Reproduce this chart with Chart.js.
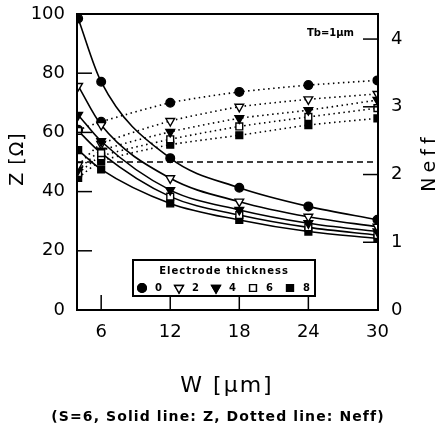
<!DOCTYPE html>
<html>
<head>
<meta charset="utf-8">
<script src="https://cdn.jsdelivr.net/npm/chart.js@4.4.1/dist/chart.umd.min.js"></script>
<style>
html,body{margin:0;padding:0;background:#fff;}
canvas{display:block;}
</style>
</head>
<body>
<canvas id="c" width="440" height="429"></canvas>
<script>
// ---- data ----
const W = [4, 6, 12, 18, 24, 30];
const THICKNESS = ['0', '2', '4', '6', '8'];
const Z_T0 = [98.5, 77.1, 51.3, 41.3, 35.0, 30.5];
const Z_T2 = [75.7, 62.5, 44.5, 36.6, 31.5, 28.1];
const Z_T4 = [65.9, 57.0, 40.5, 33.8, 29.3, 26.5];
const Z_T6 = [60.5, 53.0, 38.3, 32.1, 27.9, 25.3];
const Z_T8 = [54.0, 47.5, 36.0, 30.4, 26.5, 24.2];
const NEFF_T0 = [2.66, 2.78, 3.06, 3.22, 3.32, 3.39];
const NEFF_T2 = [2.14, 2.45, 2.79, 3.00, 3.11, 3.19];
const NEFF_T4 = [2.07, 2.35, 2.63, 2.83, 2.95, 3.10];
const NEFF_T6 = [2.02, 2.27, 2.52, 2.71, 2.85, 2.98];
const NEFF_T8 = [1.95, 2.20, 2.44, 2.58, 2.73, 2.83];
const Z_REF = 50;
const X_TICKS = [6, 12, 18, 24, 30];
const Z_TICKS = [0, 20, 40, 60, 80, 100];
const NEFF_TICKS = [0, 1, 2, 3, 4];
const X_MIN = 3.9, X_MAX = 30.05;
const Z_MIN = 0, Z_MAX = 100;
const NEFF_MIN = 0, NEFF_MAX = 4.37;

// ---- styles ----
const MARKERS = [
  {pointStyle: 'circle',   rotation: 0,   fill: '#000', radius: 4.3},
  {pointStyle: 'triangle', rotation: 180, fill: '#fff', radius: 5},
  {pointStyle: 'triangle', rotation: 180, fill: '#000', radius: 5},
  {pointStyle: 'rect',     rotation: 0,   fill: '#fff', radius: 4.8},
  {pointStyle: 'rect',     rotation: 0,   fill: '#000', radius: 4.8}
];
const Z_SERIES = [Z_T0, Z_T2, Z_T4, Z_T6, Z_T8];
const NEFF_SERIES = [NEFF_T0, NEFF_T2, NEFF_T4, NEFF_T6, NEFF_T8];
const toPts = arr => arr.map((v, i) => ({x: W[i], y: v}));

const datasets = [];
Z_SERIES.forEach((s, i) => {
  const m = MARKERS[i];
  datasets.push({
    label: 'Z t=' + THICKNESS[i], data: toPts(s), yAxisID: 'y',
    borderColor: '#000', borderWidth: 1.6, cubicInterpolationMode: 'monotone',
    pointStyle: m.pointStyle, rotation: m.rotation, pointRadius: m.radius,
    pointBackgroundColor: m.fill, pointBorderColor: '#000', pointBorderWidth: 1.4
  });
});
NEFF_SERIES.forEach((s, i) => {
  const m = MARKERS[i];
  datasets.push({
    label: 'Neff t=' + THICKNESS[i], data: toPts(s), yAxisID: 'y1',
    borderColor: '#000', borderWidth: 1.6, borderDash: [1.5, 3.5], tension: 0.2,
    pointStyle: m.pointStyle, rotation: m.rotation, pointRadius: m.radius,
    pointBackgroundColor: m.fill, pointBorderColor: '#000', pointBorderWidth: 1.4
  });
});
datasets.push({
  label: 'Z ref', data: [{x: X_MIN, y: Z_REF}, {x: X_MAX, y: Z_REF}], yAxisID: 'y',
  borderColor: '#000', borderWidth: 1.6, borderDash: [6, 4], pointRadius: 0
});

const TICK_FONT = {family: 'DejaVu Sans', size: 18};
const noPad = s => { s.paddingTop = 0; s.paddingBottom = 0; s.paddingLeft = 0; s.paddingRight = 0; };

const decor = {
  id: 'decor',
  afterDraw(chart) {
    const {ctx, chartArea: a, scales} = chart;
    const line = (x1, y1, x2, y2) => { ctx.beginPath(); ctx.moveTo(x1, y1); ctx.lineTo(x2, y2); ctx.stroke(); };
    ctx.save();
    ctx.strokeStyle = '#000';
    ctx.fillStyle = '#000';
    ctx.setLineDash([]);

    // legend box
    const lx = a.left + 56, ly = a.bottom - 50, lw = 182, lh = 36;
    ctx.fillStyle = '#fff';
    ctx.fillRect(lx, ly, lw, lh);
    ctx.lineWidth = 2;
    ctx.strokeRect(lx, ly, lw, lh);
    ctx.fillStyle = '#000';
    ctx.font = 'bold 10px "DejaVu Sans"';
    ctx.textAlign = 'center';
    ctx.textBaseline = 'middle';
    ctx.letterSpacing = '1px';
    ctx.fillText('Electrode thickness', lx + lw / 2, ly + 11);
    const ey = ly + 28;
    THICKNESS.forEach((t, i) => {
      const mx = lx + 9 + i * 37;
      const m = MARKERS[i];
      ctx.fillStyle = m.fill;
      ctx.lineWidth = 1.4;
      Chart.helpers.drawPoint(ctx, {pointStyle: m.pointStyle, rotation: m.rotation, radius: m.radius, borderWidth: 1.4}, mx, ey);
      ctx.fill();
      ctx.stroke();
      ctx.fillStyle = '#000';
      ctx.fillText(t, mx + 17, ey);
    });
    ctx.letterSpacing = '0px';

    // frame
    ctx.lineWidth = 2;
    ctx.strokeRect(a.left, a.top, a.right - a.left, a.bottom - a.top);

    // inward tick marks
    const TL = 15;
    ctx.lineWidth = 1.5;
    Z_TICKS.forEach(v => { if (v > Z_MIN && v < Z_MAX) { const p = scales.y.getPixelForValue(v); line(a.left, p, a.left + TL, p); } });
    NEFF_TICKS.forEach(v => { if (v > NEFF_MIN) { const p = scales.y1.getPixelForValue(v); line(a.right - TL, p, a.right, p); } });
    X_TICKS.forEach(v => { if (v < X_MAX - 0.5) { const p = scales.x.getPixelForValue(v); line(p, a.bottom, p, a.bottom - TL); } });

    // annotation
    ctx.font = 'bold 10px "DejaVu Sans"';
    ctx.textAlign = 'right';
    ctx.textBaseline = 'middle';
    ctx.fillText('Tb=1\u03bcm', a.right - 24, a.top + 19);

    // axis titles
    ctx.textAlign = 'center';
    ctx.font = '19px "DejaVu Sans"';
    ctx.save();
    ctx.translate(18, (a.top + a.bottom) / 2 - 3);
    ctx.rotate(-Math.PI / 2);
    ctx.letterSpacing = '1px';
    ctx.fillText('Z [\u03a9]', 0, 0);
    ctx.restore();
    ctx.save();
    ctx.translate(430, (a.top + a.bottom) / 2);
    ctx.rotate(-Math.PI / 2);
    ctx.letterSpacing = '5px';
    ctx.fillText('Neff', 0, 0);
    ctx.restore();

    ctx.font = '22px "DejaVu Sans"';
    ctx.letterSpacing = '2px';
    ctx.fillText('W [\u03bcm]', 227, 386);
    ctx.font = 'bold 14px "DejaVu Sans"';
    ctx.letterSpacing = '1.1px';
    ctx.fillText('(S=6, Solid line: Z, Dotted line: Neff)', 218, 417);
    ctx.restore();
  }
};

new Chart(document.getElementById('c'), {
  type: 'line',
  data: {datasets},
  options: {
    responsive: false,
    animation: false,
    layout: {padding: {top: 14, left: 0, right: 0, bottom: 0}},
    plugins: {legend: {display: false}, tooltip: {enabled: false}, title: {display: false}},
    scales: {
      x: {
        type: 'linear', position: 'bottom', min: X_MIN, max: X_MAX,
        afterBuildTicks: s => { s.ticks = X_TICKS.map(v => ({value: v})); },
        afterFit: s => { s.height = 119; noPad(s); },
        grid: {drawOnChartArea: false, drawTicks: false},
        border: {display: true, color: '#000', width: 2},
        ticks: {font: TICK_FONT, color: '#000', padding: 12, maxRotation: 0, autoSkip: false}
      },
      y: {
        type: 'linear', position: 'left', min: Z_MIN, max: Z_MAX,
        afterBuildTicks: s => { s.ticks = Z_TICKS.map(v => ({value: v})); },
        afterFit: s => { s.width = 77; noPad(s); },
        grid: {drawOnChartArea: false, drawTicks: false},
        border: {display: true, color: '#000', width: 2},
        ticks: {font: TICK_FONT, color: '#000', padding: 12}
      },
      y1: {
        type: 'linear', position: 'right', min: NEFF_MIN, max: NEFF_MAX,
        afterBuildTicks: s => { s.ticks = NEFF_TICKS.map(v => ({value: v})); },
        afterFit: s => { s.width = 62; noPad(s); },
        grid: {drawOnChartArea: false, drawTicks: false},
        border: {display: true, color: '#000', width: 2},
        ticks: {font: TICK_FONT, color: '#000', padding: 13}
      }
    }
  },
  plugins: [decor]
});
</script>
</body>
</html>
